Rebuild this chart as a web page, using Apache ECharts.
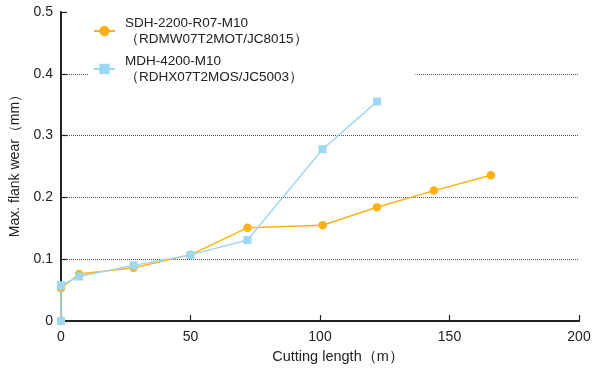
<!DOCTYPE html>
<html><head><meta charset="utf-8">
<script src="https://cdn.jsdelivr.net/npm/echarts@6/dist/echarts.min.js"></script>
<style>html,body{margin:0;padding:0;background:#fff}#c{width:594px;height:370px}</style>
</head><body><div id="c"></div>
<script>
const seriesNames = ['SDH-2200-R07-M10\n（RDMW07T2MOT/JC8015）', 'MDH-4200-M10\n（RDHX07T2MOS/JC5003）'];
const sdhLength = [0, 0, 7, 28, 50, 72, 101, 122, 144, 166];
const sdhWear = [0, 0.053, 0.076, 0.086, 0.107, 0.151, 0.155, 0.184, 0.211, 0.236];
const mdhLength = [0, 0, 7, 28, 50, 72, 101, 122];
const mdhWear = [0, 0.058, 0.072, 0.090, 0.107, 0.131, 0.278, 0.355];
const xTicks = [0, 50, 100, 150, 200];
const yTicks = [0, 0.1, 0.2, 0.3, 0.4, 0.5];

const pairs = (xs, ys) => xs.map((x, i) => [x, ys[i]]);
const font = 'Liberation Sans, Arial, sans-serif';
const chart = echarts.init(document.getElementById('c'));
chart.setOption({
  animation: false,
  grid: { left: 61, right: 15, top: 12, bottom: 49 },
  legend: {
    orient: 'vertical', left: 88, top: 11,
    padding: [4, 108, 4, 5],
    backgroundColor: '#fff',
    itemWidth: 21, itemHeight: 13, itemGap: 6,
    textStyle: { fontFamily: font, fontSize: 13.5, color: '#222', lineHeight: 16, padding: [0, 0, 0, 5] },
    data: seriesNames
  },
  xAxis: {
    type: 'value', min: xTicks[0], max: xTicks[xTicks.length - 1], interval: 50,
    name: 'Cutting length（m）', nameLocation: 'middle', nameGap: 28,
    nameTextStyle: { fontFamily: font, fontSize: 14.5, color: '#222', padding: [0, 0, 0, 36] },
    axisLine: { lineStyle: { color: '#222', width: 2 } },
    axisTick: { inside: true, length: 6, lineStyle: { color: '#222', width: 1.2 } },
    axisLabel: { fontFamily: font, fontSize: 14, color: '#222', margin: 9 },
    splitLine: { show: false }
  },
  yAxis: {
    type: 'value', min: yTicks[0], max: yTicks[yTicks.length - 1], interval: 0.1,
    name: 'Max. flank wear（mm）', nameLocation: 'middle', nameGap: 37,
    nameTextStyle: { fontFamily: font, fontSize: 14, color: '#222', padding: [0, 0, 0, 8] },
    axisLine: { show: true, lineStyle: { color: '#222', width: 2 } },
    axisTick: { show: true, inside: true, length: 6, lineStyle: { color: '#222', width: 1.2 } },
    axisLabel: { fontFamily: font, fontSize: 14, color: '#222', margin: 8, formatter: v => String(+v.toFixed(1)) },
    splitLine: { show: true, lineStyle: { type: 'dotted', width: 1, color: ['transparent', '#555', '#555', '#555', '#555', 'transparent'] } }
  },
  series: [
    { name: seriesNames[0], type: 'line', data: pairs(sdhLength, sdhWear),
      symbol: 'circle', symbolSize: 8.5, z: 2,
      itemStyle: { color: '#FBB117' }, lineStyle: { color: '#FBB117', width: 1.5 } },
    { name: seriesNames[1], type: 'line', data: pairs(mdhLength, mdhWear),
      symbol: 'rect', symbolSize: 8, z: 3,
      itemStyle: { color: '#9DD8F4' }, lineStyle: { color: '#9DD8F4', width: 1.5 } }
  ]
});
</script></body></html>
